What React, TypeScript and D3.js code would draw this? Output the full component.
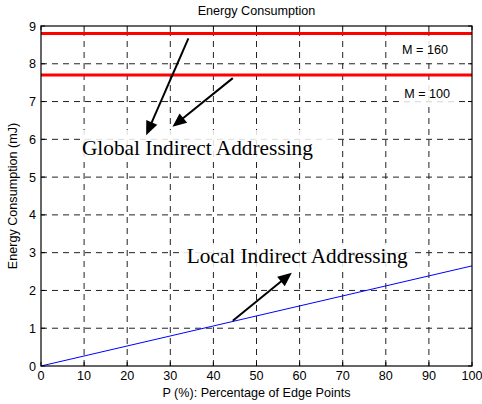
import React from "react";
import * as d3 from "d3";

const xTicks = [0, 10, 20, 30, 40, 50, 60, 70, 80, 90, 100];
const yTicks = [0, 1, 2, 3, 4, 5, 6, 7, 8, 9];
const pValues = [0, 100];
const localEnergy = [0, 2.65];
const globalLevels = [8.8, 7.7];
const globalLabels = ["M = 160", "M = 100"];
const globalLabelX = [89.1, 89.6];
const globalLabelY = [8.26, 7.1];

const W = 482;
const H = 404;
const M = { left: 41, right: 10, top: 26, bottom: 38 };

export default function App() {
  const x = d3.scaleLinear().domain([0, 100]).range([M.left, W - M.right]);
  const y = d3.scaleLinear().domain([0, 9]).range([H - M.bottom, M.top]);
  const line = d3
    .line<number>()
    .x((_, i) => x(pValues[i]))
    .y((d) => y(d));

  const arrows = [
    { x1: 34.2, y1: 8.67, x2: 24.4, y2: 6.11 },
    { x1: 44.5, y1: 7.62, x2: 30.5, y2: 6.33 },
    { x1: 44.5, y1: 1.2, x2: 58.2, y2: 2.47 },
  ];

  const arrowHead = (a: { x1: number; y1: number; x2: number; y2: number }) => {
    const X1 = x(a.x1), Y1 = y(a.y1), X2 = x(a.x2), Y2 = y(a.y2);
    const dx = X2 - X1, dy = Y2 - Y1;
    const len = Math.hypot(dx, dy);
    const ux = dx / len, uy = dy / len;
    const L = 14, hw = 6;
    const bx = X2 - ux * L, by = Y2 - uy * L;
    const px = -uy, py = ux;
    return {
      shaft: [X1, Y1, bx + ux * 2, by + uy * 2],
      pts: `${X2},${Y2} ${bx + px * hw},${by + py * hw} ${bx - px * hw},${by - py * hw}`,
    };
  };

  const x0 = x(0), x1 = x(100), y0 = y(0), y1 = y(9);
  const font = "Liberation Sans, Arial, Helvetica, sans-serif";
  const serif = "Liberation Serif, Times New Roman, serif";
  const fs = 12.6;

  return (
    <svg
      width={W}
      height={H}
      style={{ position: "absolute", left: 0, top: 0, background: "#fff" }}
    >
      <rect x={0} y={0} width={W} height={H} fill="#fff" />
      {/* grid */}
      {xTicks.slice(1, -1).map((t) => (
        <line key={"gx" + t} x1={x(t)} x2={x(t)} y1={y0} y2={y1} stroke="#222" strokeWidth={1} strokeDasharray="6,5" />
      ))}
      {yTicks.slice(1, -1).map((t) => (
        <line key={"gy" + t} x1={x0} x2={x1} y1={y(t)} y2={y(t)} stroke="#222" strokeWidth={1} strokeDasharray="6,5" />
      ))}
      {/* tick marks */}
      {xTicks.map((t) => (
        <g key={"tx" + t}>
          <line x1={x(t)} x2={x(t)} y1={y0} y2={y0 - 4} stroke="#000" />
          <line x1={x(t)} x2={x(t)} y1={y1} y2={y1 + 4} stroke="#000" />
        </g>
      ))}
      {yTicks.map((t) => (
        <g key={"ty" + t}>
          <line x1={x0} x2={x0 + 4} y1={y(t)} y2={y(t)} stroke="#000" />
          <line x1={x1} x2={x1 - 4} y1={y(t)} y2={y(t)} stroke="#000" />
        </g>
      ))}
      {/* white boxes behind texts */}
      <rect x={80} y={130} width={258} height={32} fill="#fff" opacity={0.85} />
      <rect x={184} y={243} width={228} height={24} fill="#fff" opacity={0.85} />
      <rect x={398} y={40} width={56} height={18} fill="#fff" opacity={0.85} />
      <rect x={400} y={84} width={56} height={18} fill="#fff" opacity={0.85} />

      {/* data */}
      {globalLevels.map((v, i) => (
        <line key={"g" + i} x1={x0} x2={x1} y1={y(v)} y2={y(v)} stroke="#ff0000" strokeWidth={3} />
      ))}
      <path d={line(localEnergy) || ""} fill="none" stroke="#0000ff" strokeWidth={1} />

      {/* frame */}
      <rect x={x0} y={y1} width={x1 - x0} height={y0 - y1} fill="none" stroke="#000" strokeWidth={1.2} />

      {/* tick labels */}
      {xTicks.map((t) => (
        <text key={"lx" + t} x={x(t)} y={y0 + 14} textAnchor="middle" fontFamily={font} fontSize={fs} fill="#000">
          {t}
        </text>
      ))}
      {yTicks.map((t) => (
        <text key={"ly" + t} x={x0 - 5} y={y(t) + 4.5} textAnchor="end" fontFamily={font} fontSize={fs} fill="#000">
          {t}
        </text>
      ))}

      {/* labels */}
      <text x={(x0 + x1) / 2} y={15} textAnchor="middle" fontFamily={font} fontSize={fs}>
        Energy Consumption
      </text>
      <text x={(x0 + x1) / 2} y={397} textAnchor="middle" fontFamily={font} fontSize={fs}>
        P (%): Percentage of Edge Points
      </text>
      <text
        transform={`translate(17,${(y0 + y1) / 2}) rotate(-90)`}
        textAnchor="middle"
        fontFamily={font}
        fontSize={fs}
      >
        Energy Consumption (mJ)
      </text>

      {globalLabels.map((l, i) => (
        <text key={"ml" + i} x={x(globalLabelX[i])} y={y(globalLabelY[i])} textAnchor="middle" fontFamily={font} fontSize={fs}>
          {l}
        </text>
      ))}

      <text x={x(9.5)} y={y(5.58)} fontFamily={serif} fontSize={21} textLength={231} lengthAdjust="spacingAndGlyphs">
        Global Indirect Addressing
      </text>
      <text x={x(33.8)} y={y(2.73)} fontFamily={serif} fontSize={21} textLength={221} lengthAdjust="spacingAndGlyphs">
        Local Indirect Addressing
      </text>

      {arrows.map((a, i) => {
        const h = arrowHead(a);
        return (
          <g key={"a" + i}>
            <line x1={h.shaft[0]} y1={h.shaft[1]} x2={h.shaft[2]} y2={h.shaft[3]} stroke="#000" strokeWidth={2} />
            <polygon points={h.pts} fill="#000" />
          </g>
        );
      })}
    </svg>
  );
}
